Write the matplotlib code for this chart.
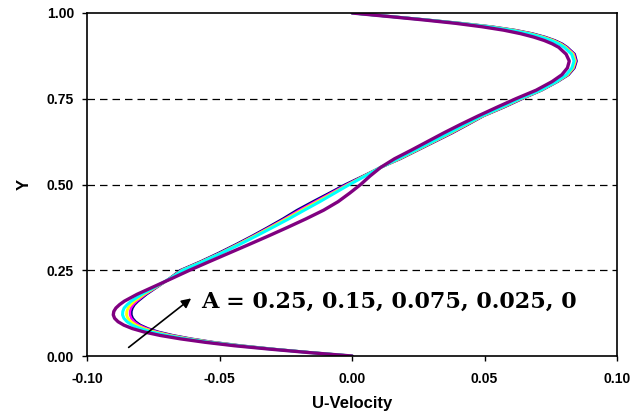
import matplotlib
matplotlib.use("Agg")
import matplotlib.pyplot as plt

# Vertical coordinate Y
y_vals = [0.0, 0.01, 0.02, 0.03, 0.04, 0.05, 0.06, 0.07, 0.08, 0.09, 0.10, 0.11,
          0.12, 0.13, 0.14, 0.15, 0.16, 0.18, 0.20, 0.225, 0.25, 0.275, 0.30,
          0.325, 0.35, 0.375, 0.40, 0.425, 0.45, 0.475, 0.50, 0.525, 0.55, 0.575,
          0.60, 0.625, 0.65, 0.675, 0.70, 0.725, 0.75, 0.775, 0.80, 0.82, 0.84,
          0.86, 0.88, 0.90, 0.91, 0.92, 0.93, 0.94, 0.95, 0.96, 0.97, 0.98, 0.99,
          1.0]

# U-velocity profiles, one per amplitude A
u_a000 = [0.0, -0.0154, -0.0294, -0.0418, -0.0523, -0.0607, -0.0676, -0.0731, -0.0771,
          -0.0800, -0.0818, -0.0829, -0.0834, -0.0834, -0.0830, -0.0822, -0.0809, -0.0777,
          -0.0739, -0.0691, -0.0648, -0.0573, -0.0504, -0.0439, -0.0377, -0.0318, -0.0261,
          -0.0208, -0.0148, -0.0086, -0.0025, 0.0043, 0.0108, 0.0182, 0.0247, 0.0312,
          0.0377, 0.0437, 0.0496, 0.0572, 0.0642, 0.0716, 0.0776, 0.0817, 0.0839, 0.0847,
          0.0840, 0.0812, 0.0793, 0.0765, 0.0728, 0.0680, 0.0615, 0.0528, 0.0412, 0.0283,
          0.0144, 0.0]
u_a025 = [0.0, -0.0155, -0.0295, -0.0420, -0.0525, -0.0610, -0.0680, -0.0735, -0.0775,
          -0.0805, -0.0823, -0.0834, -0.0839, -0.0839, -0.0835, -0.0826, -0.0813, -0.0780,
          -0.0740, -0.0690, -0.0645, -0.0570, -0.0500, -0.0435, -0.0373, -0.0313, -0.0255,
          -0.0200, -0.0140, -0.0080, -0.0020, 0.0045, 0.0108, 0.0180, 0.0245, 0.0310,
          0.0375, 0.0435, 0.0495, 0.0570, 0.0640, 0.0715, 0.0775, 0.0815, 0.0837, 0.0845,
          0.0838, 0.0810, 0.0790, 0.0762, 0.0725, 0.0677, 0.0612, 0.0525, 0.0410, 0.0282,
          0.0143, 0.0]
u_a075 = [0.0, -0.0157, -0.0298, -0.0425, -0.0531, -0.0618, -0.0689, -0.0745, -0.0786,
          -0.0816, -0.0835, -0.0847, -0.0852, -0.0851, -0.0846, -0.0836, -0.0822, -0.0786,
          -0.0743, -0.0689, -0.0642, -0.0567, -0.0496, -0.0431, -0.0368, -0.0307, -0.0248,
          -0.0190, -0.0131, -0.0072, -0.0014, 0.0047, 0.0108, 0.0178, 0.0243, 0.0307,
          0.0371, 0.0432, 0.0493, 0.0567, 0.0637, 0.0713, 0.0773, 0.0813, 0.0834, 0.0842,
          0.0834, 0.0806, 0.0786, 0.0758, 0.0720, 0.0672, 0.0607, 0.0521, 0.0408, 0.0280,
          0.0142, 0.0]
u_a150 = [0.0, -0.0159, -0.0302, -0.0431, -0.0539, -0.0627, -0.0700, -0.0758, -0.0800,
          -0.0831, -0.0850, -0.0862, -0.0867, -0.0866, -0.0861, -0.0849, -0.0834, -0.0794,
          -0.0747, -0.0689, -0.0639, -0.0564, -0.0493, -0.0426, -0.0362, -0.0300, -0.0239,
          -0.0181, -0.0122, -0.0066, -0.0010, 0.0050, 0.0108, 0.0174, 0.0239, 0.0303,
          0.0366, 0.0427, 0.0490, 0.0563, 0.0633, 0.0711, 0.0771, 0.0809, 0.0830, 0.0838,
          0.0829, 0.0801, 0.0780, 0.0751, 0.0713, 0.0664, 0.0600, 0.0515, 0.0404, 0.0278,
          0.0141, 0.0]
u_a250 = [0.0, -0.0163, -0.0310, -0.0445, -0.0555, -0.0648, -0.0725, -0.0785, -0.0830,
          -0.0862, -0.0884, -0.0897, -0.0902, -0.0900, -0.0892, -0.0878, -0.0860, -0.0812,
          -0.0755, -0.0684, -0.0614, -0.0540, -0.0465, -0.0390, -0.0316, -0.0244, -0.0174,
          -0.0108, -0.0053, -0.0009, 0.0032, 0.0068, 0.0108, 0.0160, 0.0223, 0.0284,
          0.0345, 0.0409, 0.0476, 0.0546, 0.0618, 0.0695, 0.0755, 0.0792, 0.0813, 0.0820,
          0.0808, 0.0780, 0.0756, 0.0725, 0.0685, 0.0635, 0.0572, 0.0490, 0.0390, 0.0268,
          0.0135, 0.0]

series = [
    (u_a000, "#000080", 2.0),
    (u_a025, "#FF00FF", 1.7),
    (u_a075, "#FFFF00", 2.0),
    (u_a150, "#00FFFF", 2.2),
    (u_a250, "#800080", 2.4),
]

x_ticks = [-0.10, -0.05, 0.00, 0.05, 0.10]
y_ticks = [0.00, 0.25, 0.50, 0.75, 1.00]
grid_levels = [0.25, 0.50, 0.75]
label_text = "A = 0.25, 0.15, 0.075, 0.025, 0"

fig = plt.figure(figsize=(6.44, 4.18), dpi=100)
ax = fig.add_axes([0.1356, 0.1483, 0.8224, 0.8206])

for lvl in grid_levels:
    ax.axhline(lvl, color="black", lw=0.9, dashes=(6, 4), zorder=1)

for u, c, lw in series:
    ax.plot(u, y_vals, color=c, lw=lw, solid_capstyle="round",
            solid_joinstyle="round", zorder=2)

ax.set_xlim(-0.10, 0.10)
ax.set_ylim(0.0, 1.0)
ax.set_xticks(x_ticks)
ax.set_yticks(y_ticks)
ax.set_xticklabels([f"{v:.2f}" for v in x_ticks])
ax.set_yticklabels([f"{v:.2f}" for v in y_ticks])

for lab in ax.get_xticklabels() + ax.get_yticklabels():
    lab.set_fontfamily("Liberation Sans")
    lab.set_fontweight("bold")
    lab.set_fontsize(10)

ax.tick_params(axis="both", direction="out", length=3.6, width=1.0, colors="black")
ax.tick_params(axis="x", pad=8)
ax.tick_params(axis="y", pad=6)

for sp in ax.spines.values():
    sp.set_linewidth(1.2)
    sp.set_color("black")

ax.set_xlabel("U-Velocity", fontfamily="Liberation Sans", fontweight="bold",
              fontsize=12, labelpad=7)
ax.set_ylabel("Y", fontfamily="Liberation Sans", fontweight="bold",
              fontsize=12, labelpad=11)

ax.annotate("", xy=(-0.0608, 0.168), xytext=(-0.0844, 0.025),
            arrowprops=dict(arrowstyle="-|>", color="black", lw=1.2,
                            mutation_scale=14, shrinkA=0, shrinkB=0),
            zorder=3)
ax.text(-0.057, 0.14, label_text, fontfamily="DejaVu Serif",
        fontweight="bold", fontsize=16, ha="left", va="baseline", zorder=3)

fig.savefig("out.png", dpi=100)
